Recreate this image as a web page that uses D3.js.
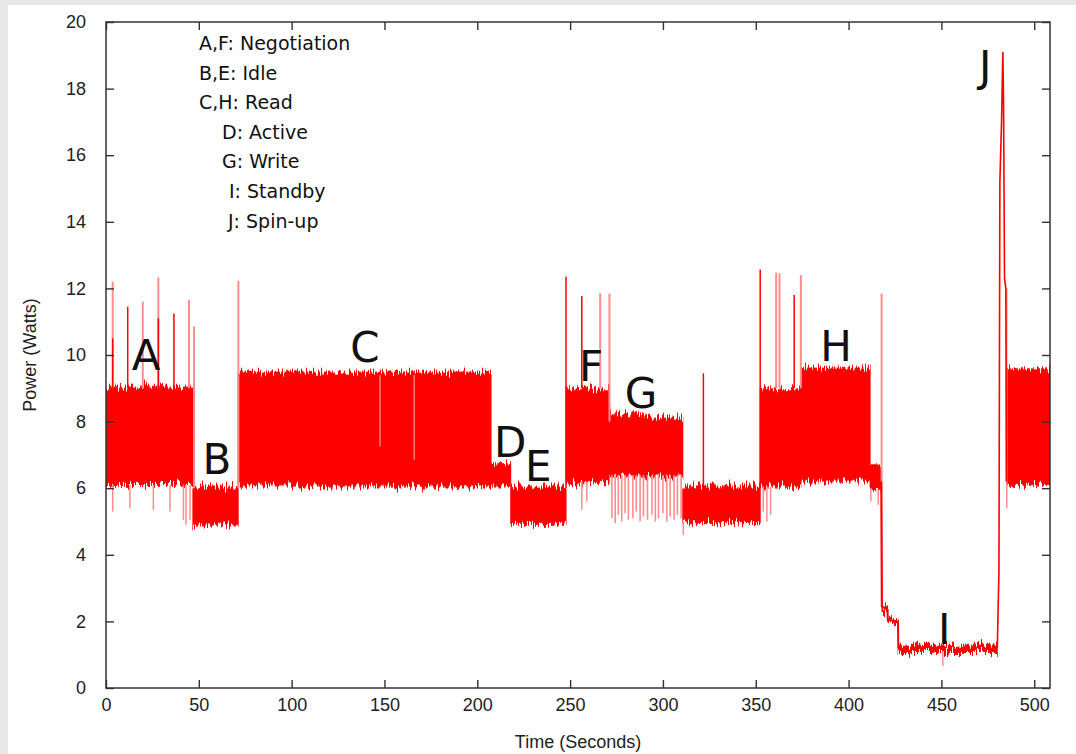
<!DOCTYPE html>
<html>
<head>
<meta charset="utf-8">
<script src="https://cdn.jsdelivr.net/npm/d3@7"></script>
<style>
  html, body { margin: 0; padding: 0; background: #e8e8e8; }
  svg { display: block; }
</style>
</head>
<body>
<svg id="chart" width="1076" height="754"></svg>
<script>
// Disk power trace: each operating phase is a band between its low and high readings (Watts)
const bandStart = [0, 46.8, 71.2, 207.4, 218.0, 247.8, 271.0, 290.0, 310.7, 352.4, 374.3, 411.6, 418.0, 421.0, 426.7, 485.0];
const bandEnd   = [46.8, 71.2, 207.4, 218.0, 247.8, 271.0, 290.0, 310.7, 352.4, 374.3, 411.6, 417.6, 421.0, 426.7, 480.1, 508.5];
const bandLow   = [6.1, 4.88, 6.05, 6.05, 4.9, 6.15, 6.35, 6.35, 4.95, 6.05, 6.2, 5.95, 2.25, 1.95, 1.05, 6.1];
const bandHigh  = [9.05, 6.05, 9.5, 6.75, 6.05, 9.0, 8.25, 8.15, 6.08, 9.0, 9.62, 6.72, 2.45, 2.1, 1.3, 9.6];

// Short excursions: [time, from W, to W]
const sharpSpikes = [
  [3.6, 9.0, 10.5], [11.7, 9.0, 11.45], [28.2, 9.0, 11.1], [36.6, 9.0, 11.25],
  [247.8, 6.0, 12.35], [256.3, 9.0, 11.77], [321.8, 6.0, 9.45],
  [352.4, 6.0, 12.57], [370.7, 9.0, 11.8]
];
const faintSpikes = [
  [3.6, 9.0, 12.2], [19.8, 9.0, 11.6], [28.2, 9.0, 12.33], [44.7, 9.0, 11.65],
  [47.4, 6.0, 10.85], [71.3, 6.0, 12.23], [266.2, 9.0, 11.85], [271.2, 8.0, 11.84],
  [361.0, 9.0, 12.47], [362.8, 9.0, 12.45], [374.3, 9.0, 12.4], [417.8, 2.4, 11.85]
];
const dropSpikes = [
  [3.6, 5.3, 6.1], [12.9, 5.4, 6.1], [25.5, 5.35, 6.1], [34.5, 5.3, 6.1],
  [41.7, 5.05, 6.1], [43.1, 4.9, 6.1], [45.3, 5.05, 6.1],
  [256.3, 5.35, 6.2], [259.0, 5.6, 6.2], [311.0, 4.6, 5.0],
  [354.0, 5.3, 6.05], [356.0, 5.0, 6.05], [358.0, 5.2, 6.05],
  [412.0, 5.6, 6.0], [416.0, 5.5, 5.95], [450.8, 0.66, 1.1], [485.2, 5.4, 12.0]
];
// Read-dip streaks inside phase C
const innerDips = [[147.6, 9.4, 7.25], [166.0, 9.4, 6.85]];
// Write bursts in phase G dipping below the band
const writeBurstT = [272.5, 274.3, 276.0, 277.8, 279.6, 281.4, 283.8, 285.6, 287.7, 289.5,
                     291.7, 294.1, 295.9, 297.6, 300.0, 302.1, 303.9, 306.0, 307.8, 309.8];
const writeBurstLow = [5.1, 4.95, 5.2, 5.0, 5.25, 5.05, 5.1, 5.3, 5.0, 5.15,
                       5.05, 5.2, 5.0, 5.1, 5.25, 5.0, 5.15, 5.05, 5.2, 5.1];
// Standby descent and spin-up surge
const stepTrace = [[417.6, 6.2], [418.0, 2.45], [421.0, 2.35], [421.1, 2.05], [426.6, 2.0], [426.8, 1.2]];
const spinUpTrace = [[480.1, 1.2], [481.0, 3.5], [481.5, 15.2], [482.4, 17.0], [483.1, 19.1],
                     [483.5, 17.5], [484.0, 12.3], [484.7, 12.0], [485.0, 6.2]];

// Phase letters placed at [time, watts]
const phaseLetters = ["A", "B", "C", "D", "E", "F", "G", "H", "I", "J"];
const phaseLetterT = [21.6, 59.8, 139.5, 217.7, 232.8, 261.3, 288.2, 393.3, 451.5, 473.6];
const phaseLetterW = [9.55, 6.43, 9.79, 6.94, 6.22, 9.22, 8.41, 9.82, 1.32, 18.23];

const keyLines = ["A,F: Negotiation", "B,E: Idle", "C,H: Read", "D: Active", "G: Write", "I: Standby", "J: Spin-up"];

const xTicks = [0, 50, 100, 150, 200, 250, 300, 350, 400, 450, 500];
const yTicks = [0, 2, 4, 6, 8, 10, 12, 14, 16, 18, 20];

const svg = d3.select("#chart");
const W = 1076, H = 754;
const pLeft = 106, pRight = 1050, pTop = 22, pBottom = 688;

// white page over the grey surround
svg.append("rect").attr("x", 8).attr("y", 5).attr("width", W - 8).attr("height", H - 5).attr("fill", "#fff");

const x = d3.scaleLinear().domain([0, 508.5]).range([pLeft, pRight]);
const y = d3.scaleLinear().domain([0, 20]).range([pBottom, pTop]);

// ragged edge texture for the sampled bands (vertical jitter only)
const defs = svg.append("defs");
const f = defs.append("filter").attr("id", "ragged")
  .attr("filterUnits", "userSpaceOnUse")
  .attr("x", pLeft - 5).attr("y", pTop - 5).attr("width", pRight - pLeft + 10).attr("height", pBottom - pTop + 10)
  .attr("color-interpolation-filters", "sRGB");
f.append("feTurbulence").attr("type", "fractalNoise").attr("baseFrequency", "0.75 0.03")
  .attr("numOctaves", 2).attr("seed", 7).attr("result", "noise");
f.append("feColorMatrix").attr("in", "noise").attr("type", "matrix")
  .attr("values", "0 0 0 0 0.5  0 1 0 0 0  0 0 0 0 0  0 0 0 0 1").attr("result", "map");
f.append("feDisplacementMap").attr("in", "SourceGraphic").attr("in2", "map")
  .attr("scale", 18).attr("xChannelSelector", "R").attr("yChannelSelector", "G");

defs.append("clipPath").attr("id", "plotClip").append("rect")
  .attr("x", pLeft).attr("y", pTop).attr("width", pRight - pLeft).attr("height", pBottom - pTop);

const plot = svg.append("g").attr("clip-path", "url(#plotClip)");
const RED = "#ff0000", PINK = "#ff8c8c";

const vline = (g, rows, color, width) => g.selectAll(null).data(rows).join("line")
  .attr("x1", d => x(d[0])).attr("x2", d => x(d[0]))
  .attr("y1", d => y(d[1])).attr("y2", d => y(d[2]))
  .attr("stroke", color).attr("stroke-width", width);

// bands (a hair of overlap so neighbouring phases join without a seam)
const bandIdx = d3.range(bandStart.length);
plot.append("g").attr("filter", "url(#ragged)")
  .selectAll("rect").data(bandIdx).join("rect")
  .attr("x", i => x(bandStart[i]) - 0.5)
  .attr("width", i => x(bandEnd[i]) - x(bandStart[i]) + 1)
  .attr("y", i => y(bandHigh[i]))
  .attr("height", i => y(bandLow[i]) - y(bandHigh[i]))
  .attr("fill", RED);

// write bursts below phase G
vline(plot.append("g"), writeBurstT.map((t, i) => [t, 6.4, writeBurstLow[i]]), PINK, 1.6);
vline(plot.append("g"), innerDips, "#ffa5a5", 1.1);
vline(plot.append("g"), dropSpikes, PINK, 1.5);
vline(plot.append("g"), faintSpikes, PINK, 2);
vline(plot.append("g"), sharpSpikes, RED, 1.5);

const line = d3.line().x(d => x(d[0])).y(d => y(d[1]));
plot.append("path").attr("d", line(stepTrace)).attr("fill", "none").attr("stroke", RED).attr("stroke-width", 2);
plot.append("path").attr("d", line(spinUpTrace)).attr("fill", "none").attr("stroke", RED).attr("stroke-width", 1.6);

// axes with inward ticks on all four sides
const tickFont = "'Liberation Sans', Arial, sans-serif";
const styleAxis = g => {
  g.select(".domain").remove();
  g.selectAll(".tick line").attr("stroke", "#333").attr("stroke-width", 1.4);
  g.selectAll(".tick text").attr("fill", "#222").style("font-family", tickFont).style("font-size", "18px");
};
svg.append("g").attr("transform", `translate(0,${pBottom})`)
  .call(d3.axisBottom(x).tickValues(xTicks).tickSizeInner(-8).tickSizeOuter(0).tickPadding(10))
  .call(styleAxis);
svg.append("g").attr("transform", `translate(0,${pTop})`)
  .call(d3.axisTop(x).tickValues(xTicks).tickSizeInner(-8).tickSizeOuter(0).tickFormat(""))
  .call(styleAxis);
svg.append("g").attr("transform", `translate(${pLeft},0)`)
  .call(d3.axisLeft(y).tickValues(yTicks).tickSizeInner(-8).tickSizeOuter(0).tickPadding(20))
  .call(styleAxis);
svg.append("g").attr("transform", `translate(${pRight},0)`)
  .call(d3.axisRight(y).tickValues(yTicks).tickSizeInner(-8).tickSizeOuter(0).tickFormat(""))
  .call(styleAxis);

svg.append("rect").attr("x", pLeft).attr("y", pTop).attr("width", pRight - pLeft).attr("height", pBottom - pTop)
  .attr("fill", "none").attr("stroke", "#333").attr("stroke-width", 1.5);

// axis titles
svg.append("text").attr("x", (pLeft + pRight) / 2).attr("y", 748).attr("text-anchor", "middle")
  .style("font-family", tickFont).style("font-size", "18px").attr("fill", "#222").text("Time (Seconds)");
svg.append("text").attr("transform", "translate(36,355) rotate(-90)").attr("text-anchor", "middle")
  .style("font-family", tickFont).style("font-size", "18px").attr("fill", "#222").text("Power (Watts)");

// phase letters
svg.append("g").selectAll("text").data(phaseLetters).join("text")
  .attr("x", (d, i) => x(phaseLetterT[i])).attr("y", (d, i) => y(phaseLetterW[i]))
  .attr("text-anchor", "middle")
  .style("font-family", "'DejaVu Sans', sans-serif").style("font-size", "42px").attr("fill", "#111")
  .text(d => d);

// key text
const keyIndent = [199, 199, 199, 222, 222, 229, 228];
svg.append("g").selectAll("text").data(keyLines).join("text")
  .attr("x", (d, i) => keyIndent[i]).attr("y", (d, i) => 50 + i * 29.6)
  .style("font-family", "'DejaVu Sans', sans-serif").style("font-size", "19px").attr("fill", "#111")
  .text(d => d);
</script>
</body>
</html>
